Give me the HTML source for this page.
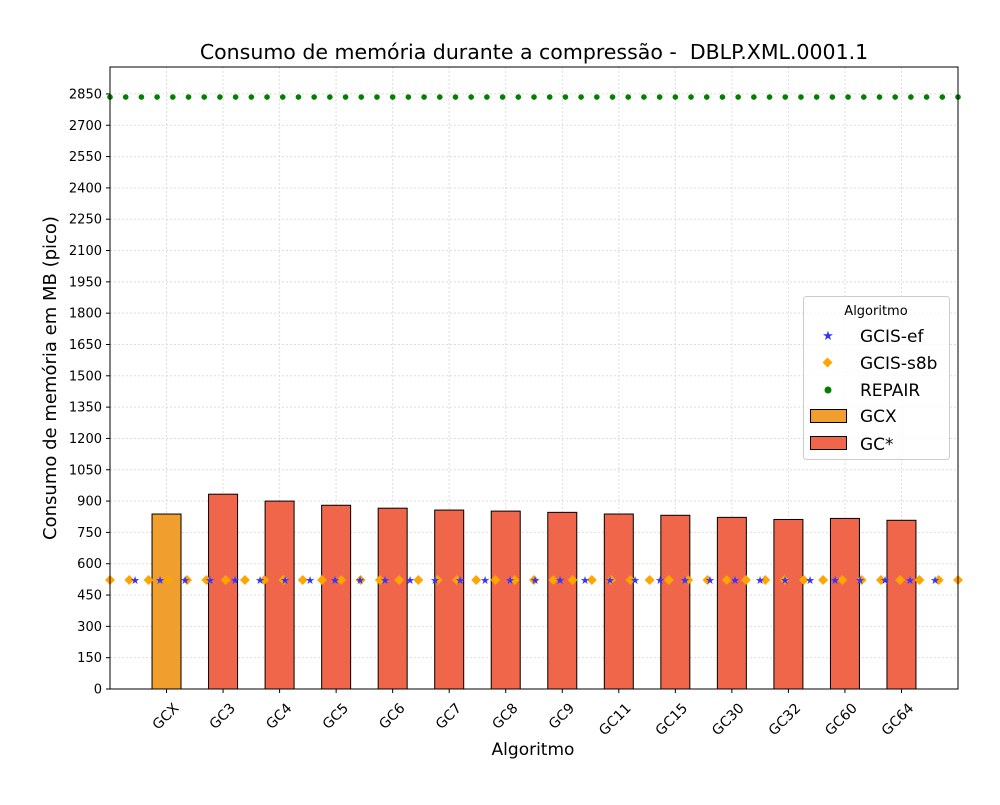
<!DOCTYPE html>
<html><head><meta charset="utf-8"><style>
body{margin:0;background:#fff;}
svg text{font-family:"DejaVu Sans","Liberation Sans",sans-serif;fill:#000;}
</style></head><body>
<svg id="chart" width="1000" height="800" xmlns="http://www.w3.org/2000/svg">
<text x="534" y="59" font-size="20.5" text-anchor="middle">Consumo de memória durante a compressão -&#160; DBLP.XML.0001.1</text>
<g id="grid"></g><g id="bars"></g><g id="marks"></g><g id="axes"></g>
<text x="533" y="755" font-size="17" text-anchor="middle">Algoritmo</text>
<text transform="translate(56,378) rotate(-90)" font-size="18" text-anchor="middle">Consumo de memória em MB (pico)</text>
<g>
<rect x="803.5" y="296.5" width="146" height="163" rx="3" fill="#fff" fill-opacity="0.8" stroke="#ccc"/>
<text x="876" y="315" font-size="13" text-anchor="middle">Algoritmo</text>
<text x="828" y="340" font-size="13" fill="#3333ff" style="fill:#3333ff" text-anchor="middle">★</text>
<text x="860" y="342" font-size="17">GCIS-ef</text>
<rect x="824" y="359" width="7" height="7" fill="orange" transform="rotate(45 827.5 362.5)"/>
<text x="860" y="369" font-size="17">GCIS-s8b</text>
<circle cx="828" cy="390" r="3.5" fill="green"/>
<text x="860" y="396" font-size="17">REPAIR</text>
<rect x="810.5" y="409.5" width="36" height="13" fill="#f09e2e" stroke="#000"/>
<text x="860" y="422" font-size="17">GCX</text>
<rect x="810.5" y="436.5" width="36" height="13" fill="#ef664b" stroke="#000"/>
<text x="860" y="450" font-size="17">GC*</text>
</g>
</svg>
<script>
const categories=["GCX","GC3","GC4","GC5","GC6","GC7","GC8","GC9","GC11","GC15","GC30","GC32","GC60","GC64"];
const memValues=[838,933,900,880,866,857,852,846,838,832,822,812,817,808];
const repairValue=[2835];
const gcisS8bValue=[522];
const gcisEfValue=[522];
const yTicks=[0,150,300,450,600,750,900,1050,1200,1350,1500,1650,1800,1950,2100,2250,2400,2550,2700,2850];
const L=110,R=958,T=67,B=689,yMax=2979;
const NS="http://www.w3.org/2000/svg";
const xS=i=>L+(i+1)*(R-L)/15;
const yS=v=>B-v*(B-T)/yMax;
function mk(t,a,p){const e=document.createElementNS(NS,t);for(const k in a)e.setAttribute(k,a[k]);p.appendChild(e);return e;}
const grid=document.getElementById('grid'),bars=document.getElementById('bars'),marks=document.getElementById('marks'),axes=document.getElementById('axes');
yTicks.forEach(v=>{const y=yS(v);
 mk('line',{x1:L,x2:R,y1:y,y2:y,stroke:'#ddd','stroke-dasharray':'2,2'},grid);
 mk('line',{x1:L-4,x2:L,y1:y,y2:y,stroke:'#000'},axes);
 const t=mk('text',{x:L-8,y:y+4.5,'font-size':13,'text-anchor':'end'},axes);t.textContent=v;
 
 
});
categories.forEach((c,i)=>{const x=xS(i);
 mk('line',{x1:x,x2:x,y1:T,y2:B,stroke:'#ddd','stroke-dasharray':'2,2'},grid);
 const r=mk('rect',{x:x-14.5,y:yS(memValues[i]),width:29,height:B-yS(memValues[i]),fill:i===0?'#f09e2e':'#ef664b',stroke:'#000'},bars);
 
 
 mk('line',{x1:x,x2:x,y1:B,y2:B+4,stroke:'#000'},axes);
 const t=mk('text',{x:0,y:0,'font-size':14,'text-anchor':'end',transform:`translate(${x+13},${B+20}) rotate(-45)`},axes);t.textContent=c;
 
 
});
const nS8b=45,nEf=34,nRep=55;
for(let k=0;k<nS8b;k++){const x=L+k*(R-L)/(nS8b-1),y=yS(gcisS8bValue[0]);
 const d=mk('rect',{x:x-3.5,y:y-3.5,width:7,height:7,fill:'orange',transform:`rotate(45 ${x} ${y})`},marks);
 
 }
for(let k=0;k<nEf;k++){const x=L+25+k*25,y=yS(gcisEfValue[0]);if(x>R)break;
 const s=mk('text',{x:x,y:y+4,'font-size':11,'text-anchor':'middle',style:'fill:#3333ff'},marks);s.textContent='★';
 
 }
for(let k=0;k<nRep;k++){const x=L+k*(R-L)/(nRep-1);
 const c=mk('circle',{cx:x,cy:yS(repairValue[0]),r:2.8,fill:'green'},marks);
 
 }
mk('rect',{x:L,y:T,width:R-L,height:B-T,fill:'none',stroke:'#000'},axes);
</script>
</body></html>
